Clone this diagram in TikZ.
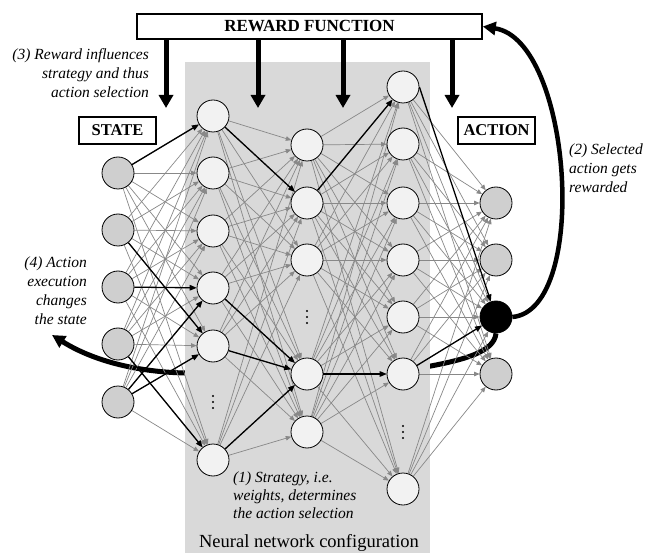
\documentclass[tikz,border=0pt]{standalone}
\usepackage{fontspec}
\setmainfont{Liberation Serif}
\usetikzlibrary{arrows.meta}
\pgfdeclarelayer{bg}
\pgfdeclarelayer{edges}
\pgfsetlayers{bg,edges,main}
\definecolor{netbg}{HTML}{D9D9D9}
\definecolor{inputfill}{HTML}{CFCFCF}
\definecolor{hiddenfill}{HTML}{F2F2F2}
\definecolor{edgegray}{HTML}{888888}
\begin{document}
\begin{tikzpicture}[x=1pt,y=-1pt,
  neuron/.style={circle, draw=black, line width=0.8pt, minimum size=32pt, inner sep=0pt},
  innode/.style={neuron, fill=inputfill},
  hidnode/.style={neuron, fill=hiddenfill},
  outnode/.style={neuron, fill=inputfill},
  selnode/.style={neuron, fill=black},
  wedge/.style={draw=edgegray, line width=0.7pt, -{Triangle[length=5.5pt,width=4.5pt]}},
  hedge/.style={draw=black, line width=1.3pt, -{Triangle[length=7pt,width=5.5pt]}},
  labelbox/.style={draw=black, line width=1.5pt, fill=white, font=\bfseries\fontsize{16.5}{18}\selectfont, inner sep=0pt},
  bigarrow/.style={line width=5pt, -{Triangle[length=13pt,width=14pt]}},
  loopline/.style={line width=4.5pt, -{Triangle[length=13pt,width=13pt]}},
  note/.style={font=\itshape\fontsize{15.5}{19}\selectfont, inner sep=0pt},
  vdot/.style={fill=black}
]
\useasboundingbox (0,0) rectangle (653,553);

% boxes
\node[labelbox, minimum width=345pt, minimum height=25pt, font=\bfseries\fontsize{17}{18}\selectfont] (reward) at (309.5,26.5) {REWARD FUNCTION};
\node[labelbox, minimum width=77pt, minimum height=27pt] (state) at (117.5,130.5) {STATE};
\node[labelbox, minimum width=77pt, minimum height=27pt] (action) at (496.5,130.5) {ACTION};

% input layer
\foreach \y [count=\k] in {173,230,287,344,402}
  \node[innode] (i\k) at (118,\y) {};
% hidden layer 1
\foreach \y [count=\k] in {116,173,231,288,346,460}
  \node[hidnode] (a\k) at (213,\y) {};
% hidden layer 2
\foreach \y [count=\k] in {145,203,260,374,432}
  \node[hidnode] (b\k) at (307,\y) {};
% hidden layer 3
\foreach \y [count=\k] in {87,144,203,260,317,374,489}
  \node[hidnode] (c\k) at (403,\y) {};
% output layer
\node[outnode] (o1) at (496,203) {};
\node[outnode] (o2) at (496,260) {};
\node[selnode] (o3) at (496,317) {};
\node[outnode] (o4) at (496,374) {};

% vertical dots (omitted neurons)
\foreach \x/\y in {213/402, 307/317, 403/432}
  \foreach \dy in {-6,0,6}
    \fill[vdot] (\x,\y+\dy) circle (1.1pt);

% background: curve (4) then gray rectangle over it
\begin{pgfonlayer}{bg}
  \coordinate (stateout) at (52,335);
  \draw[line width=5pt, -{Triangle[length=13pt,width=13pt]}]
    (o3.south) .. controls (494,352) and (465,360) .. (420,368)
    -- (185,373) .. controls (140,372) and (95,362) .. (stateout);
  \fill[netbg] (185,62) rectangle (430,553);
\end{pgfonlayer}

% edges
\begin{pgfonlayer}{edges}
  \foreach \i in {1,...,5} \foreach \j in {1,...,6} \draw[wedge] (i\i) -- (a\j);
  \foreach \i in {1,...,6} \foreach \j in {1,...,5} \draw[wedge] (a\i) -- (b\j);
  \foreach \i in {1,...,5} \foreach \j in {1,...,7} \draw[wedge] (b\i) -- (c\j);
  \foreach \i in {1,...,7} \foreach \j in {1,...,4} \draw[wedge] (c\i) -- (o\j);
  % highlighted path
  \draw[hedge] (i1) -- (a1);
  \draw[hedge] (i2) -- (a5);
  \draw[hedge] (i3) -- (a4);
  \draw[hedge] (i4) -- (a6);
  \draw[hedge] (i5) -- (a4);
  \draw[hedge] (i5) -- (a5);
  \draw[hedge] (a1) -- (b2);
  \draw[hedge] (a4) -- (b4);
  \draw[hedge] (a5) -- (b4);
  \draw[hedge] (a6) -- (b4);
  \draw[hedge] (b2) -- (c1);
  \draw[hedge] (b4) -- (c6);
  \draw[hedge] (c1.east) -- (o3);
  \draw[hedge] (c6) -- (o3);
\end{pgfonlayer}

% reward arrows
\coordinate (r1) at (166,108);
\coordinate (r2) at (258,108);
\coordinate (r3) at (343,108);
\coordinate (r4) at (452,108);
\foreach \r in {r1,r2,r3,r4}
  \draw[bigarrow] (\r |- reward.south) -- (\r);

% loop (2)
\draw[loopline] (o3.east) .. controls (590,310) and (572,40) .. (reward.east);

% notes
\node[note, align=right, anchor=east] (n3) at (149,73) {(3) Reward influences\\strategy and thus\\action selection};
\node[note, align=left, anchor=west] (n2) at (569,168) {(2) Selected\\action gets\\rewarded};
\node[note, align=right, anchor=east] (n4) at (87,291) {(4) Action\\execution\\changes\\the state};
\node[note, align=left, anchor=west, font=\itshape\fontsize{15.5}{18}\selectfont] (n1) at (233,495) {(1) Strategy, i.e.\\weights, determines\\the action selection};
\node[inner sep=0pt, font=\fontsize{18.5}{20}\selectfont] (nnc) at (309,543) {Neural network configuration};
\end{tikzpicture}
\end{document}
